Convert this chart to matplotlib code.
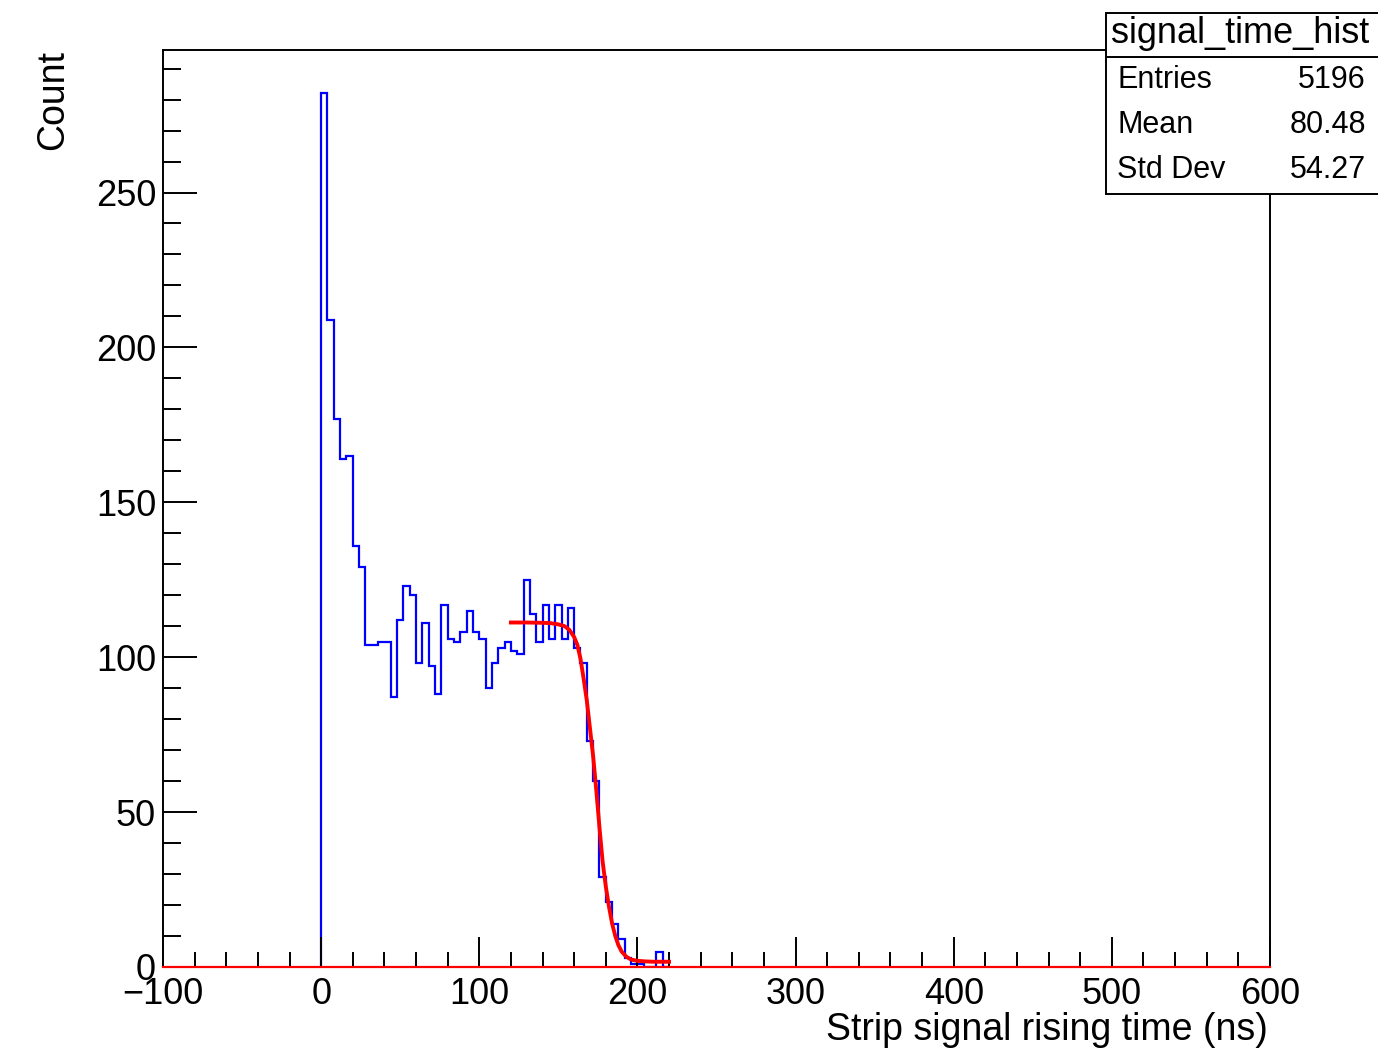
import matplotlib
matplotlib.use('Agg')
import matplotlib.pyplot as plt
from matplotlib.patches import Rectangle
from matplotlib.lines import Line2D
from matplotlib.ticker import MultipleLocator

plt.rcParams['font.family'] = ['Liberation Sans', 'DejaVu Sans']

# histogram contents, 4 ns bins starting at 0 ns
bin_width = 4
counts = [282, 209, 177, 164, 165, 136, 129, 104, 104, 105, 105,
          87, 112, 123, 120, 98, 111, 97, 88, 117, 106, 105, 108, 115, 108,
          106, 90, 98, 103, 105, 102, 101, 125, 114, 105, 117, 106, 117, 106,
          116, 103, 98, 73, 60, 29, 21, 14, 9, 3, 1, 1, 0, 0, 5, 0]
edges = [i * bin_width for i in range(len(counts) + 1)]

# fitted curve
fit_x = [120, 130, 140, 145, 150, 154, 157, 160, 162, 164, 166, 168, 170,
         172, 174, 176, 178, 180, 182, 184, 186, 188, 190, 193, 196, 200,
         205, 210, 215, 220]
fit_y = [111.2, 111.2, 111.1, 111.0, 110.6, 110.0, 108.8, 106.5, 104.0,
         99.5, 93, 86, 77, 68, 57, 45, 34, 26, 19.5, 14, 10, 7, 5, 3.3,
         2.4, 2.0, 1.8, 1.7, 1.7, 1.7]

stat_names = ['Entries', 'Mean', 'Std Dev']
stat_values = ['5196', '80.48', '54.27']
hist_name = 'signal_time_hist'

W, H = 1378, 1052
fig = plt.figure(figsize=(W / 100, H / 100), dpi=100)


def fx(px):
    return px / W


def fy(py):
    return 1 - py / H


ax = fig.add_axes([fx(163), fy(967), (1270 - 163) / W, (967 - 50) / H])
ax.stairs(counts, edges, color='#0000ff', linewidth=1.6, baseline=0)
ax.plot(fit_x, fit_y, color='#ff0000', linewidth=2.8)
# zero line of the function, drawn over the bottom frame
ax.plot([-100, 600], [0, 0], color='#ff0000', linewidth=1.6,
        clip_on=False, zorder=4)

ax.set_xlim(-100, 600)
ax.set_ylim(0, 296)
ax.xaxis.set_major_locator(MultipleLocator(100))
ax.xaxis.set_minor_locator(MultipleLocator(20))
ax.yaxis.set_major_locator(MultipleLocator(50))
ax.yaxis.set_minor_locator(MultipleLocator(10))

for s in ax.spines.values():
    s.set_linewidth(1.4)
ax.tick_params(axis='both', which='both', direction='in', width=1.4,
               labelsize=26, colors='black', pad=5)
ax.tick_params(axis='x', which='both', pad=7)
ax.tick_params(axis='x', which='major', length=21.5)
ax.tick_params(axis='x', which='minor', length=10.8)
ax.tick_params(axis='y', which='major', length=24.5)
ax.tick_params(axis='y', which='minor', length=13)

fig.text(fx(53), fy(50), 'Count', rotation=90, ha='center', va='top', fontsize=27)
fig.text(fx(1268), fy(1030), 'Strip signal rising time (ns)',
         ha='right', va='center', fontsize=27)

# stats box
box = Rectangle((fx(1106), fy(194)), (1390 - 1106) / W, (194 - 13) / H,
                transform=fig.transFigure, facecolor='white',
                edgecolor='black', linewidth=1.4, zorder=5)
fig.add_artist(box)
fig.add_artist(Line2D([fx(1106), fx(1390)], [fy(57), fy(57)],
                      transform=fig.transFigure, color='black',
                      linewidth=1.4, zorder=6))
fig.text(fx(1240), fy(43), hist_name, ha='center', va='baseline',
         fontsize=26, zorder=7)
for i, (name, val) in enumerate(zip(stat_names, stat_values)):
    yb = 88 + 45 * i
    fig.text(fx(1117), fy(yb), name, ha='left', va='baseline', fontsize=22, zorder=7)
    fig.text(fx(1366), fy(yb), val, ha='right', va='baseline', fontsize=22, zorder=7)

fig.savefig('out.png', dpi=100)
